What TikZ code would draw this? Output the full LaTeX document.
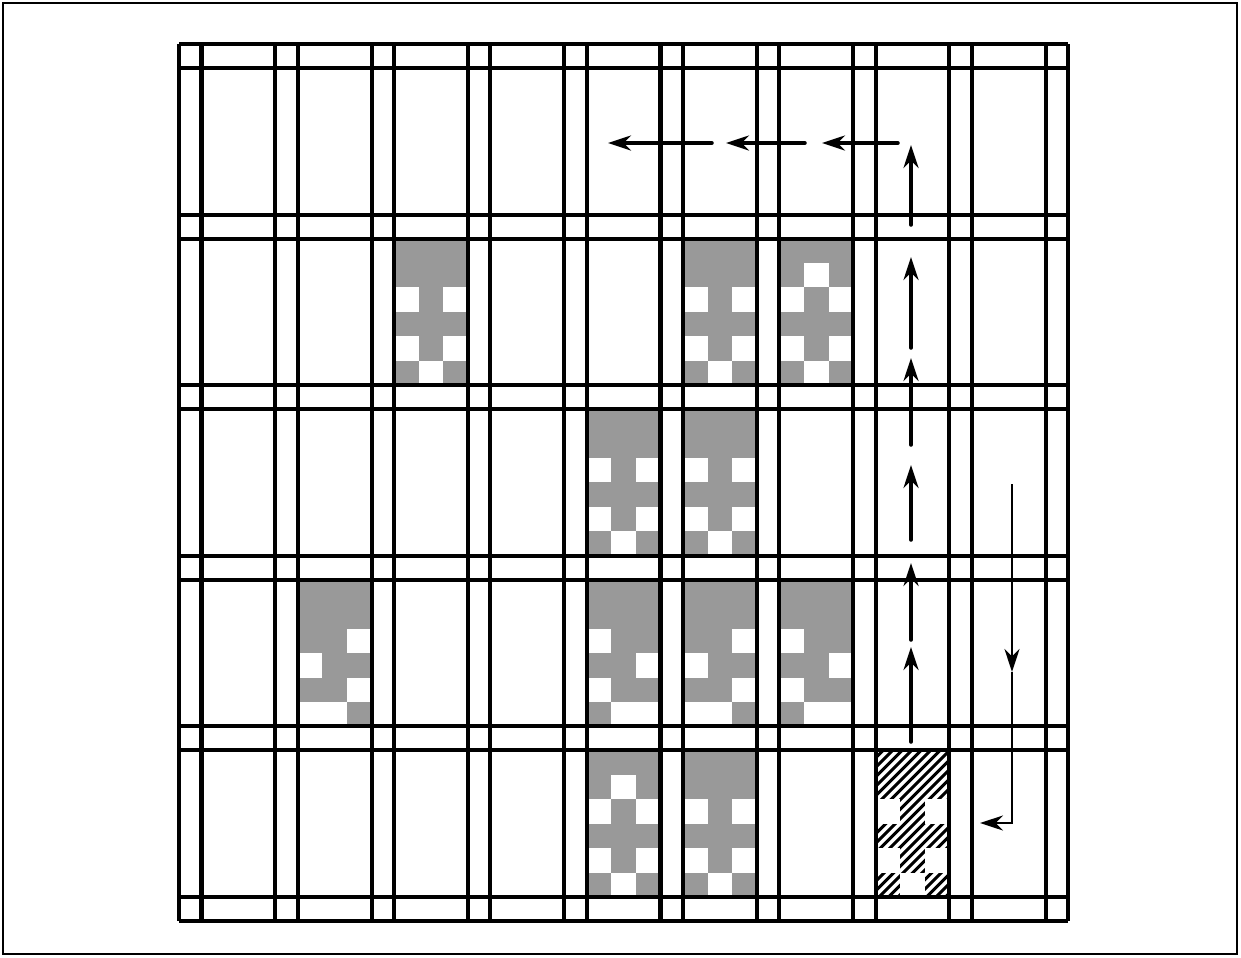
\documentclass[tikz,border=0pt]{standalone}
\usetikzlibrary{arrows.meta,calc}

% white squares of the cell patterns (column/row in a 3x6 cell)
\def\patA{0/2,2/2,0/4,2/4,1/5}
\def\patB{1/1,0/2,2/2,0/4,2/4,1/5}
\def\patC{2/2,0/3,2/4,0/5,1/5}
\def\patD{0/2,2/3,0/4,1/5,2/5}

% one shaded cell: column, row, holes
\newcommand\shadecell[3]{%
  \pgfmathsetmacro\gcx{201.5+96.3*(#1-1)}%
  \pgfmathsetmacro\gcy{68+170.6*(#2-1)}%
  \fill[cellfill] (\gcx,\gcy) rectangle ++(73.8,146.6);
  \foreach \a/\b in #3 {
    \fill[hole] ({\gcx+24.6*\a},{\gcy+24.43*\b}) rectangle ++(24.6,24.43);
  }
}

\begin{document}
\begin{tikzpicture}[x=0.02cm, y=-0.02cm, >={Stealth[length=0.46cm, width=0.3cm]}]
        % Style definitions
        \tikzset{
            bar/.style={line width=2.3pt},
            frame/.style={line width=1.2pt},
            cellfill/.style={fill=black!40},
            hole/.style={fill=white},
            hatchline/.style={line width=1.7pt},
            flow/.style={->, line width=2pt, line cap=round},
            thinflow/.style={->, line width=1.5pt}
        }

        % Page and frame
        \fill[white] (0,0) rectangle (1241,957);
        \useasboundingbox (0,0) rectangle (1241,957);
        \draw[frame] (3,3) rectangle (1237,954);

        % Shaded cells
        \shadecell{3}{2}{\patA}
        \shadecell{6}{2}{\patA}
        \shadecell{7}{2}{\patB}
        \shadecell{5}{3}{\patA}
        \shadecell{6}{3}{\patA}
        \shadecell{2}{4}{\patC}
        \shadecell{5}{4}{\patD}
        \shadecell{6}{4}{\patC}
        \shadecell{7}{4}{\patD}
        \shadecell{5}{5}{\patB}
        \shadecell{6}{5}{\patA}

        % Hatched cell
        \coordinate (hatchcell) at (875.6,750.4);
        \begin{scope}
            \clip (hatchcell) rectangle ++(73.8,146.6);
            \foreach \k in {-16,...,9}
                \draw[hatchline] ($(hatchcell)+(9.5*\k,150)$) -- ++(160,-160);
        \end{scope}
        \foreach \a/\b in \patA
            \fill[hole] ($(hatchcell)+(24.6*\a,24.43*\b)$) rectangle ++(24.6,24.43);

        % Grid bars
        \foreach \i in {0,...,9} {
            \draw[bar] ({179+96.3*\i},44) -- ({179+96.3*\i},921);
            \draw[bar] ({201.5+96.3*\i},44) -- ({201.5+96.3*\i},921);
        }
        \foreach \j in {0,...,5} {
            \draw[bar] (179,{44+170.6*\j}) -- (1068.2,{44+170.6*\j});
            \draw[bar] (179,{68+170.6*\j}) -- (1068.2,{68+170.6*\j});
        }

        % Upward path
        \foreach \t/\h [count=\n] in {742/647, 640/563, 540/465, 445/358, 348/257, 225/145} {
            \coordinate (up\n-tail) at (911,\t);
            \coordinate (up\n-head) at (911,\h);
            \draw[flow] (up\n-tail) -- (up\n-head);
        }

        % Leftward path
        \foreach \t/\h [count=\n] in {898/822, 805/726, 712/608} {
            \coordinate (left\n-tail) at (\t,143);
            \coordinate (left\n-head) at (\h,143);
            \draw[flow] (left\n-tail) -- (left\n-head);
        }

        % Return path
        \coordinate (ret-top) at (1012,484);
        \coordinate (ret-mid) at (1012,672);
        \coordinate (ret-corner) at (1012,823);
        \coordinate (ret-end) at (980,823);
        \draw[thinflow] (ret-top) -- (ret-mid);
        \draw[thinflow] (ret-mid) -- (ret-corner) -- (ret-end);
    \end{tikzpicture}
\end{document}
